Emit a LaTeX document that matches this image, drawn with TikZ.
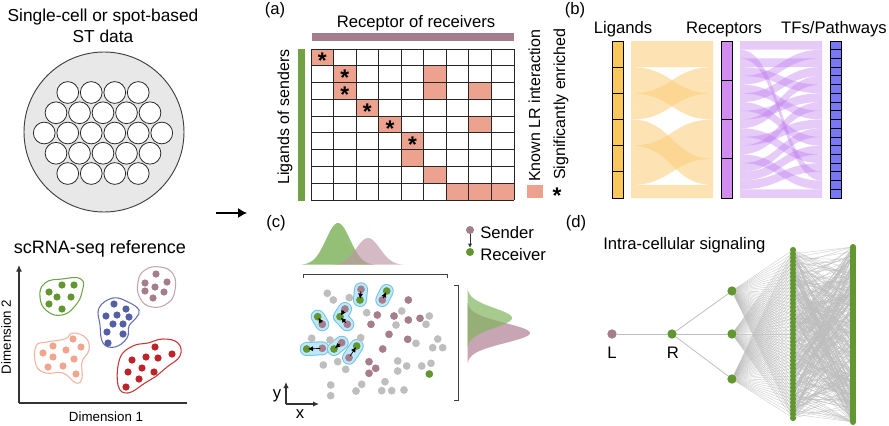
\documentclass[tikz,border=0pt]{standalone}
\usepackage{fontspec}
\setmainfont{Liberation Sans}
\usetikzlibrary{arrows.meta}
\pgfdeclarelayer{bg}
\pgfdeclarelayer{edges}
\pgfsetlayers{bg,edges,main}
\definecolor{stgray}{RGB}{232,232,232}
\definecolor{grn}{RGB}{98,150,48}
\definecolor{grnline}{RGB}{110,165,70}
\definecolor{mauve}{RGB}{165,125,140}
\definecolor{mauveline}{RGB}{195,165,175}
\definecolor{blu}{RGB}{85,95,165}
\definecolor{bluline}{RGB}{100,110,180}
\definecolor{salm}{RGB}{240,165,140}
\definecolor{salmline}{RGB}{242,180,160}
\definecolor{redd}{RGB}{190,35,40}
\definecolor{reddline}{RGB}{200,55,55}
\definecolor{gry}{RGB}{190,190,190}
\definecolor{lrcol}{RGB}{236,162,142}
\definecolor{ligcol}{RGB}{250,200,90}
\definecolor{reccol}{RGB}{210,140,240}
\definecolor{tfcol}{RGB}{120,120,245}
\definecolor{ligflow}{RGB}{252,205,120}
\definecolor{tfflowc}{RGB}{190,120,240}
\definecolor{haloout}{RGB}{110,195,230}
\definecolor{haloin}{RGB}{190,232,250}
\definecolor{distg}{RGB}{130,180,95}
\definecolor{distm}{RGB}{190,150,165}
\newcommand{\flowband}[7]{%
  \fill[#1] (#2,#4) .. controls ({(#2+#3)/2},#4) and ({(#2+#3)/2},#6) .. (#3,#6)
    -- (#3,#7) .. controls ({(#2+#3)/2},#7) and ({(#2+#3)/2},#5) .. (#2,#5) -- cycle;}
\tikzset{
  lbl/.style={font=\fontsize{12.5}{15}\selectfont, anchor=base},
  head/.style={font=\fontsize{13}{16}\selectfont, anchor=base},
  small/.style={font=\fontsize{10}{12}\selectfont, anchor=base},
  leg/.style={font=\fontsize{12}{14}\selectfont, anchor=base west, rotate=90},
  stspot/.style={circle, draw=black!85, fill=white, line width=0.6pt, minimum size=16.3pt},
  cdot/.style={circle, fill=#1, minimum size=5.4pt},
  sdot/.style={circle, fill=#1, minimum size=5.8pt},
  blob/.style={draw=#1, line width=0.8pt},
  axisone/.style={draw=black!80, line width=0.8pt},
  starmark/.style={font=\fontsize{17}{17}\selectfont\bfseries, anchor=north},
  colbox/.style={draw=black, line width=0.6pt},
  ligband/.style={fill=ligflow, fill opacity=0.55},
  tfband/.style={fill=tfflowc, fill opacity=0.38},
  haloa/.style={draw=haloout, line width=10.5pt, line cap=round, line join=round},
  halob/.style={draw=haloin, line width=9pt, line cap=round, line join=round},
  pairarrow/.style={-{Latex[length=3.8pt,width=3.8pt]}, line width=0.5pt, shorten <=1.5pt, shorten >=1pt},
  bracketline/.style={draw=black!75, line width=0.6pt},
  netdot/.style={circle, fill=#1, minimum size=7pt},
  coldot/.style={circle, fill=grn, minimum size=4.6pt},
  netedge/.style={draw=gry, line width=0.6pt},
  fineedge/.style={draw=gry, line width=0.3pt, draw opacity=0.75},
}
\begin{document}
\begin{tikzpicture}[x=0.75pt, y=-0.75pt, every node/.style={inner sep=0pt}]
\begin{pgfonlayer}{bg}
\fill[white] (0,0) rectangle (889,425);
\end{pgfonlayer}
\useasboundingbox (0,0) rectangle (889,425);

% ---------------- ST data
\node[head] (st1) at (103,21) {Single-cell or spot-based};
\node[head] (st2) at (103,42) {ST data};
\node[circle, draw=black!75, fill=stgray, line width=0.7pt, minimum size=120pt] (stdisk) at (104,132) {};
\foreach \row/\n/\yy in {1/4/92.5,2/5/112.75,3/6/133,4/5/153.25,5/4/173.5}{
  \foreach \k in {1,...,\n}{
    \node[stspot] (spot-\row-\k) at ({103+(\k-(\n+1)/2)*23.5},\yy) {};
  }}

% ---------------- scRNA reference
\node[head, font=\fontsize{13.5}{16}\selectfont] (scr) at (100,253) {scRNA-seq reference};
\coordinate (axo) at (19,403);
\coordinate (axy) at (19,265);
\coordinate (axx) at (187,403);
\draw[axisone, -{Latex[length=5pt,width=4.5pt]}] (axo) -- (axy);
\draw[axisone] (axo) -- (axx);
\node[small] (dim1) at (106,421) {Dimension 1};
\node[small, rotate=90] (dim2) at (11,337) {Dimension 2};

\draw[blob=grnline] plot[smooth cycle, tension=0.8] coordinates {(40,297) (45,283) (62,279) (81,279) (82,292) (75,306) (62,315) (47,311)};
\draw[blob=mauveline] plot[smooth cycle, tension=0.8] coordinates {(138,282) (145,270) (160,267) (173,274) (175,290) (168,303) (152,307) (140,298)};
\draw[blob=bluline] plot[smooth cycle, tension=0.7] coordinates {(113,298) (128,302) (139,310) (136,318) (129,326) (127,338) (115,347) (103,343) (100,325) (99,308)};
\draw[blob=salmline] plot[smooth cycle, tension=0.7] coordinates {(47,342) (65,339) (73,333) (86,338) (89,350) (82,362) (82,378) (76,383) (63,373) (46,373) (36,365) (36,346)};
\draw[blob=reddline] plot[smooth cycle, tension=0.7] coordinates {(120,358) (133,346) (148,343) (163,339) (178,343) (180,356) (167,367) (155,377) (145,383) (128,393) (118,385)};

\foreach \a/\b [count=\i] in {49/292,62/285,74/285,57/297,71/297,49/304,62/309}
  \node[cdot=grn] (gc-\i) at (\a,\b) {};
\foreach \a/\b [count=\i] in {145/283,156/274,167/282,155/287,145/291,164/292,153/298}
  \node[cdot=mauve] (mc-\i) at (\a,\b) {};
\foreach \a/\b [count=\i] in {114/304,126/309,106/316,117/315,129/317,113/324,123/324,107/332,123/334,108/343}
  \node[cdot=blu] (bc-\i) at (\a,\b) {};
\foreach \a/\b [count=\i] in {43/353,53/346,73/339,81/347,66/350,53/357,74/359,48/367,63/366,76/374}
  \node[cdot=salm] (sc-\i) at (\a,\b) {};
\foreach \a/\b [count=\i] in {155/347,172/354,158/358,146/357,132/360,142/368,154/372,128/372,139/379,126/387}
  \node[cdot=redd] (rc-\i) at (\a,\b) {};

% arrow to the analyses
\coordinate (arrs) at (216,213);
\coordinate (arre) at (247,213);
\draw[line width=0.9pt, -{Latex[length=6.75pt,width=7.5pt]}] (arrs) -- (arre);

% ---------------- (a)
\node[lbl] (laba) at (275,14) {(a)};
\node[lbl] (rectitle) at (416,27) {Receptor of receivers};
\fill[mauve] (312,33) rectangle (514,41);
\fill[grn!90!white] (298,49) rectangle (305,201);
\node[lbl, font=\fontsize{12}{14}\selectfont, rotate=90] (ligtitle) at (289,117) {Ligands of senders};
\foreach \r/\c in {0/0,1/1,1/5,2/1,2/5,2/7,3/2,4/3,4/7,5/4,6/4,7/5,8/6,8/7,8/8}
  \fill[lrcol] ({311+\c*22.556},{49+\r*16.778}) rectangle ++(22.556,16.778);
\foreach \i in {0,...,9}{
  \draw[black!85, line width=0.6pt] ({311+\i*22.556},49) -- ({311+\i*22.556},200);
  \draw[black!85, line width=0.6pt] (311,{49+\i*16.778}) -- (514,{49+\i*16.778});
}
\foreach \r/\c [count=\i] in {0/0,1/1,2/1,3/2,4/3,5/4}
  \node[starmark] (star-\i) at ({311+(\c+0.5)*22.556},{49+(\r+0.5)*16.778-4.3}) {*};
\fill[lrcol] (527,185) rectangle (543,198);
\node[leg] (legknown) at (540,182) {Known LR interaction};
\node[starmark] (legstar) at (557,187.5) {*};
\node[leg] (legsig) at (565,180) {Significantly enriched};

% ---------------- (b)
\node[lbl] (labb) at (575,14) {(b)};
\node[lbl] (tligands) at (623,33) {Ligands};
\node[lbl] (treceptors) at (724,33) {Receptors};
\node[lbl] (ttfs) at (834,33) {TFs/Pathways};
% ligand -> receptor flows
\flowband{ligband}{631}{713}{41}{67.17}{41}{67.17}
\flowband{ligband}{631}{713}{93.33}{106.42}{67.17}{80.25}
\flowband{ligband}{631}{713}{67.17}{93.33}{93.33}{119.5}
\flowband{ligband}{631}{713}{106.42}{119.5}{80.25}{93.33}
\flowband{ligband}{631}{713}{119.5}{145.67}{158.75}{184.92}
\flowband{ligband}{631}{713}{145.67}{171.83}{119.5}{145.67}
\flowband{ligband}{631}{713}{171.83}{184.92}{145.67}{158.75}
\flowband{ligband}{631}{713}{184.92}{198}{184.92}{198}
% receptor -> TF flows
\foreach \i/\p in {0/0,1/15,2/2,3/5,4/1,5/8,6/3,7/11,8/6,9/4,10/13,11/9,12/7,13/16,14/10,15/12,16/14,17/17}{
  \pgfmathsetmacro\la{41+\i*8.722}
  \pgfmathsetmacro\lb{\la+8.722}
  \pgfmathsetmacro\ra{41+\p*8.722}
  \pgfmathsetmacro\rb{\ra+8.722}
  \flowband{tfband}{740}{822}{\la}{\lb}{\ra}{\rb}
}
\foreach \i in {0,...,5}
  \draw[colbox, fill=ligcol] (612,{41+\i*26.1667}) rectangle (623,{41+(\i+1)*26.1667});
\foreach \i in {0,...,3}
  \draw[colbox, fill=reccol] (721,{41+\i*39.25}) rectangle (732,{41+(\i+1)*39.25});
\foreach \i in {0,...,17}
  \draw[colbox, fill=tfcol] (830,{41+\i*8.722}) rectangle (841,{41+(\i+1)*8.722});

% ---------------- (c)
\node[lbl] (labc) at (276,227) {(c)};
\fill[distg, fill opacity=0.85] plot[domain=-36:36, samples=60] ({338+\x},{265-42*exp(-(\x)*(\x)/288)}) -- cycle;
\fill[distm, fill opacity=0.65] plot[domain=-36:36, samples=60] ({368+\x},{265-27*exp(-(\x)*(\x)/288)}) -- cycle;
\fill[distm, fill opacity=0.85] plot[domain=-30:30, samples=60] ({467+63*exp(-(\x)*(\x)/200)},{333+\x}) -- cycle;
\fill[distg, fill opacity=0.7] plot[domain=-30:30, samples=60] ({467+45*exp(-(\x)*(\x)/200)},{318+\x}) -- cycle;
\draw[bracketline] (303,278) -- (303,274) -- (447,274) -- (447,278);
\draw[bracketline] (454,285) -- (458,285) -- (458,400) -- (454,400);

\foreach \a/\b [count=\i] in {327.3/293.3,333.3/300,349.3/297.7,366.7/312.7,401.7/311,396/325,429.3/316,426/324.3,311.7/338.3,330/340,360.7/337.7,416/343.3,437.7/339,432.7/347.7,442.7/347.7,323.3/365,337.7/361.7,345.7/369.3,397.7/361,397.7/371,406.7/366,421.7/366,431/363.3,330.7/385,330.7/395.7,356/391,361.7/384.3,385/381.7,381.7/390.7,391.7/390.7,404/390}
  \node[sdot=gry] (gy-\i) at (\a,\b) {};
\foreach \a/\b [count=\i] in {408.3/300,377.3/315,371/324.3,394/316,408.3/320,420/318.3,389/334.3,407.7/339.3,382.7/349,369/361.7,375.7/368.3,369/373.3}
  \node[sdot=mauve] (mv-\i) at (\a,\b) {};
% sender / receiver pairs
\node[sdot=mauve] (s1) at (361,289.3) {};
\node[sdot=grn] (r1) at (360,300) {};
\node[sdot=mauve] (s2) at (382.3,300) {};
\node[sdot=grn] (r2) at (386.7,291) {};
\node[sdot=mauve] (s3) at (322.3,324.3) {};
\node[sdot=grn] (r3) at (317.7,316.7) {};
\node[sdot=mauve] (s4a) at (345,309) {};
\node[sdot=mauve] (s4b) at (347.3,324.3) {};
\node[sdot=grn] (r4) at (340,316.7) {};
\node[sdot=mauve] (s5) at (322.3,348.3) {};
\node[sdot=grn] (r5) at (306.7,349) {};
\node[sdot=mauve] (s6) at (341.7,342.7) {};
\node[sdot=grn] (r6) at (334,349) {};
\node[sdot=mauve] (s7) at (349,357.7) {};
\node[sdot=grn] (r7) at (356.7,346) {};
\node[sdot=grn] (r8) at (429.3,374) {};
\begin{pgfonlayer}{edges}
  \foreach \s/\r in {s1/r1,s2/r2,s3/r3,s5/r5,s6/r6,s7/r7}{
    \draw[haloa] (\s.center) -- (\r.center);
    \draw[halob] (\s.center) -- (\r.center);
  }
  \draw[haloa] (s4a.center) -- (r4.center) -- (s4b.center);
  \draw[halob] (s4a.center) -- (r4.center) -- (s4b.center);
\end{pgfonlayer}
\foreach \s/\r in {s1/r1,s2/r2,s3/r3,s4a/r4,s4b/r4,s5/r5,s6/r6,s7/r7}
  \draw[pairarrow] (\s.center) -- (\r.center);

\coordinate (caxo) at (286,404);
\coordinate (caxy) at (286,382);
\coordinate (caxx) at (319,404);
\draw[axisone, -{Latex[length=4.5pt,width=4pt]}] (caxo) -- (caxy);
\draw[axisone, -{Latex[length=4.5pt,width=4pt]}] (caxo) -- (caxx);
\node[lbl, anchor=center] (cy) at (277,396) {y};
\node[lbl, anchor=center] (cx) at (300,414) {x};

% legend
\node[sdot=mauve, minimum size=6pt] (legs) at (470,230) {};
\node[sdot=grn, minimum size=6pt] (legr) at (470,252) {};
\draw[-{Latex[length=3pt,width=3pt]}, line width=0.45pt, black!80] (legs) -- (legr);
\node[lbl, anchor=base west] (tsender) at (480,238) {Sender};
\node[lbl, anchor=base west] (treceiver) at (480,260) {Receiver};

% ---------------- (d)
\node[lbl] (labd) at (576,227) {(d)};
\node[lbl, anchor=base west] (tintra) at (603,249) {Intra-cellular signaling};
\node[netdot=mauve] (nL) at (612,334) {};
\node[lbl] (tL) at (612,358) {L};
\node[netdot=grn] (nR) at (672,334) {};
\node[lbl] (tR) at (673,358) {R};
\node[netdot=grn] (nA) at (732,291) {};
\node[netdot=grn] (nB) at (732,334) {};
\node[netdot=grn] (nC) at (732,379) {};
\foreach \i in {0,...,44}
  \node[coldot] (c1-\i) at (793,{250+\i*168/44}) {};
\foreach \j in {0,...,40}
  \coordinate (c2-\j) at (853,{247+\j*175/40});
\draw[grn, line width=4.5pt, line cap=round] (c2-0) -- (c2-40);
\begin{pgfonlayer}{edges}
  \draw[netedge] (nL) -- (nR);
  \foreach \t in {nA,nB,nC} \draw[netedge] (nR) -- (\t);
  \foreach \t in {nA,nB,nC}{\foreach \i in {0,...,44} \draw[fineedge] (\t) -- (c1-\i);}
  \pgfmathsetseed{11}
  \foreach \i in {0,...,44}{\foreach \k in {1,...,9}{\pgfmathrandominteger{\j}{0}{40}\draw[fineedge] (c1-\i) -- (c2-\j);}}
\end{pgfonlayer}
\end{tikzpicture}
\end{document}
